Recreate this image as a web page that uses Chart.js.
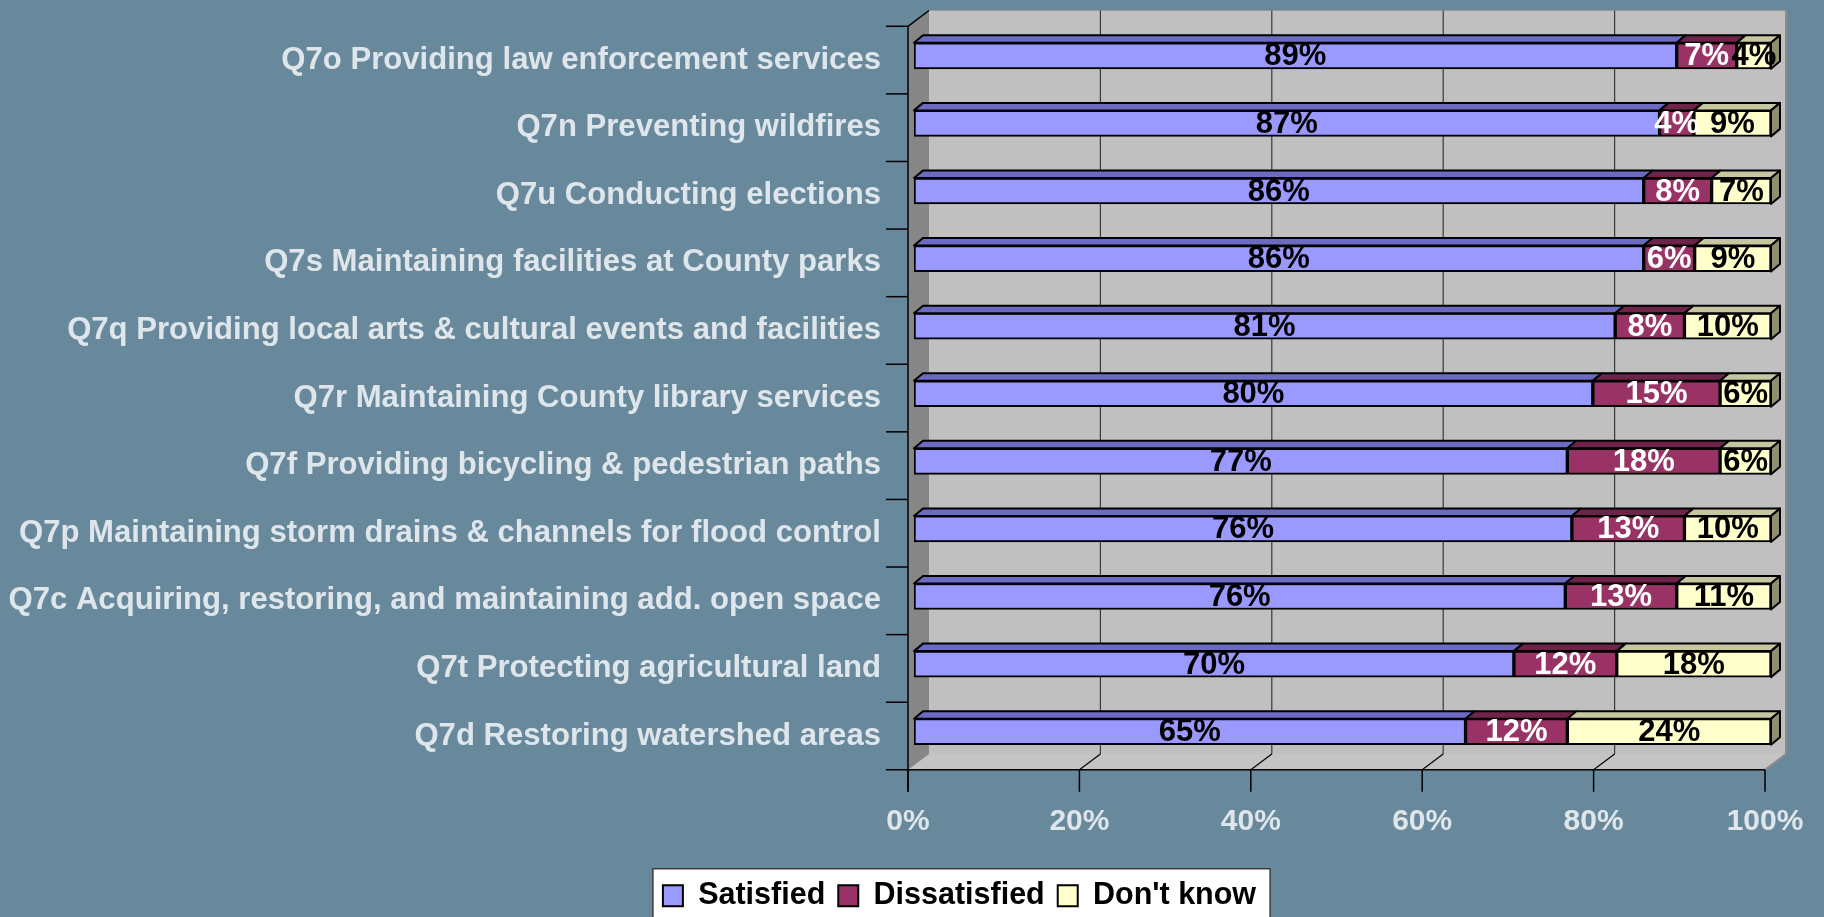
<!DOCTYPE html>
<html>
<head>
<meta charset="utf-8">
<title>Satisfaction with County services</title>
<script src="https://cdn.jsdelivr.net/npm/chart.js@4.4.1/dist/chart.umd.min.js"></script>
<style>
  html, body { margin: 0; padding: 0; background: #68899c; }
  canvas { display: block; }
</style>
</head>
<body>
<canvas id="chart" width="1824" height="917"></canvas>
<script>
let questions = [
  "Q7o Providing law enforcement services",
  "Q7n Preventing wildfires",
  "Q7u Conducting elections",
  "Q7s Maintaining facilities at County parks",
  "Q7q Providing local arts & cultural events and facilities",
  "Q7r Maintaining County library services",
  "Q7f Providing bicycling & pedestrian paths",
  "Q7p Maintaining storm drains & channels for flood control",
  "Q7c Acquiring, restoring, and maintaining add. open space",
  "Q7t Protecting agricultural land",
  "Q7d Restoring watershed areas"
];
let satisfied = [89, 87, 86, 86, 81, 80, 77, 76, 76, 70, 65];
let dissatisfied = [7, 4, 8, 6, 8, 15, 18, 13, 13, 12, 12];
let dontKnow = [4, 9, 7, 9, 10, 6, 6, 10, 11, 18, 24];
let xTicks = [0, 20, 40, 60, 80, 100];

// 100% stacked: every row is drawn as its share of that row's total
let rowTotals = satisfied.map((v, i) => v + dissatisfied[i] + dontKnow[i]);
function share(arr) {
  return arr.map((v, i) => v / rowTotals[i] * 100);
}

const BG = "#68899c";
const AXIS_TEXT = "#dfe6eb";
const FONT = "'Liberation Sans', Arial, sans-serif";

// fake 3d: offsets from the plane of the bar faces
const FRONT = { dx: -6, dy: 4.3 };
const BACK = { dx: 15, dy: -11.5 };
const BAR_DEPTH = { dx: 9, dy: -7.5 };

const fills = ["#9999ff", "#993366", "#ffffcc"];
const topFills = ["#6b6bc2", "#6e2449", "#c6c6a0"];
const sideFill = "#8e8e70";
const labelColors = ["#000", "#fff", "#000"];
const rawValues = [satisfied, dissatisfied, dontKnow];

function poly(ctx, pts, fill, stroke, lw) {
  ctx.beginPath();
  ctx.moveTo(pts[0][0], pts[0][1]);
  for (let i = 1; i < pts.length; i++) ctx.lineTo(pts[i][0], pts[i][1]);
  ctx.closePath();
  if (fill) { ctx.fillStyle = fill; ctx.fill(); }
  if (stroke) { ctx.strokeStyle = stroke; ctx.lineWidth = lw || 1; ctx.stroke(); }
}

function line(ctx, x1, y1, x2, y2, color, lw) {
  ctx.beginPath();
  ctx.moveTo(x1, y1);
  ctx.lineTo(x2, y2);
  ctx.strokeStyle = color;
  ctx.lineWidth = lw || 1;
  ctx.stroke();
}

// keep label overhang from pushing the plot area around
function noOverhang(s) {
  s.paddingTop = 0;
  s.paddingBottom = 0;
  s.paddingLeft = 0;
  s.paddingRight = 0;
}

// walls, floor, gridlines, axis ticks and the legend panel
const scenery = {
  id: "scenery",
  beforeDraw(chart) {
    const ctx = chart.ctx;
    const xs = chart.scales.x;
    const top = chart.chartArea.top, bot = chart.chartArea.bottom;
    const x0 = xs.getPixelForValue(0), x1 = xs.getPixelForValue(100);

    ctx.save();
    ctx.fillStyle = BG;
    ctx.fillRect(0, 0, chart.width, chart.height);

    const F = (px, py) => [px + FRONT.dx, py + FRONT.dy];
    const B = (px, py) => [px + BACK.dx, py + BACK.dy];

    // back wall
    poly(ctx, [B(x0, top), B(x1, top), B(x1, bot), B(x0, bot)], "#c0c0c0");
    line(ctx, ...B(x0, top), ...B(x1, top), "#9a9a9a", 1);
    line(ctx, ...B(x1, top), ...B(x1, bot), "#8c8c8c", 2);

    // left wall
    poly(ctx, [F(x0, top), B(x0, top), B(x0, bot), F(x0, bot)], "#868686");

    // floor
    poly(ctx, [F(x0, bot), F(x1, bot), B(x1, bot), B(x0, bot)], "#c4c4c4");
    line(ctx, ...F(x1, bot), ...B(x1, bot), "#8c8c8c", 2);

    // gridlines on the back wall, carried across the floor
    xTicks.forEach(v => {
      if (v === 0 || v === 100) return;
      const px = xs.getPixelForValue(v);
      line(ctx, ...B(px, top), ...B(px, bot), "#3a3a3a", 1.2);
      line(ctx, ...B(px, bot), ...F(px, bot), "#000", 1.2);
    });

    // left wall top edge and front axis
    line(ctx, ...F(x0, top), ...B(x0, top), "#000", 1.5);
    const [fx0, fyTop] = F(x0, top);
    const [, fyBot] = F(x0, bot);
    line(ctx, fx0, fyTop, fx0, fyBot + 22, "#000", 1.5);
    line(ctx, fx0 - 22, fyBot, F(x1, bot)[0], fyBot, "#000", 1.5);

    // category ticks on the front vertical axis
    const step = (bot - top) / questions.length;
    for (let i = 0; i < questions.length; i++) {
      const py = fyTop + i * step;
      line(ctx, fx0 - 22, py, fx0, py, "#000", 1.5);
    }
    // value ticks below the floor
    xTicks.forEach(v => {
      const px = xs.getPixelForValue(v) + FRONT.dx;
      line(ctx, px, fyBot, px, fyBot + 22, "#000", 1.5);
    });

    // white legend panel
    const hb = chart.legend.legendHitBoxes;
    if (hb && hb.length) {
      const first = hb[0], last = hb[hb.length - 1];
      const cy = first.top + first.height / 2;
      const left = first.left - 10, right = last.left + last.width + 14;
      ctx.fillStyle = "#fff";
      ctx.fillRect(left, cy - 27, right - left, chart.height - cy + 40);
      ctx.strokeStyle = "#3c3c3c";
      ctx.lineWidth = 1.5;
      ctx.strokeRect(left, cy - 27, right - left, chart.height - cy + 40);
    }
    ctx.restore();
  }
};

// top and end faces of the bars, then the value labels
const barFaces = {
  id: "barFaces",
  afterDatasetsDraw(chart) {
    const ctx = chart.ctx;
    const d = BAR_DEPTH;
    const n = chart.data.datasets.length;
    ctx.save();
    ctx.lineJoin = "round";
    for (let di = 0; di < n; di++) {
      chart.getDatasetMeta(di).data.forEach(bar => {
        const p = bar.getProps(["x", "y", "base", "height"], true);
        const t = p.y - p.height / 2, b = p.y + p.height / 2;
        poly(ctx, [[p.base, t], [p.x, t], [p.x + d.dx, t + d.dy], [p.base + d.dx, t + d.dy]],
          topFills[di], "#000", 2);
        if (di === n - 1) {
          poly(ctx, [[p.x, t], [p.x + d.dx, t + d.dy], [p.x + d.dx, b + d.dy], [p.x, b]],
            sideFill, "#000", 2);
        }
      });
    }
    ctx.font = "bold 31px " + FONT;
    ctx.textAlign = "center";
    ctx.textBaseline = "middle";
    for (let di = 0; di < n; di++) {
      ctx.fillStyle = labelColors[di];
      chart.getDatasetMeta(di).data.forEach((bar, i) => {
        const p = bar.getProps(["x", "y", "base"], true);
        ctx.fillText(rawValues[di][i] + "%", (p.x + p.base) / 2, p.y + 1);
      });
    }
    ctx.restore();
  }
};

new Chart(document.getElementById("chart"), {
  type: "bar",
  data: {
    labels: questions,
    datasets: [
      { label: "Satisfied", data: share(satisfied), backgroundColor: fills[0] },
      { label: "Dissatisfied", data: share(dissatisfied), backgroundColor: fills[1] },
      { label: "Don't know", data: share(dontKnow), backgroundColor: fills[2] }
    ]
  },
  options: {
    indexAxis: "y",
    responsive: false,
    animation: false,
    layout: { padding: { top: 22, right: 53, bottom: -4, left: 0 } },
    datasets: {
      bar: { barThickness: 26, borderColor: "#000", borderWidth: 2, borderSkipped: false }
    },
    scales: {
      x: {
        stacked: true,
        min: 0,
        max: 100,
        grid: { display: false, drawTicks: false },
        border: { display: false },
        afterBuildTicks: s => { s.ticks = xTicks.map(v => ({ value: v })); },
        afterFit: s => { s.height = 102; noOverhang(s); },
        ticks: {
          callback: v => v + "%",
          color: AXIS_TEXT,
          font: { family: FONT, size: 30, weight: "bold" },
          padding: 38,
          labelOffset: FRONT.dx,
          maxRotation: 0
        }
      },
      y: {
        stacked: true,
        grid: { display: false, drawTicks: false },
        border: { display: false },
        afterFit: s => { s.width = 914; noOverhang(s); },
        ticks: {
          color: AXIS_TEXT,
          font: { family: FONT, size: 31.1, weight: "bold" },
          padding: 33,
          labelOffset: FRONT.dy,
          autoSkip: false
        }
      }
    },
    plugins: {
      legend: {
        position: "bottom",
        labels: {
          boxWidth: 20,
          boxHeight: 21,
          padding: 13,
          color: "#000",
          font: { family: FONT, size: 30.5, weight: "bold", lineHeight: 0.8 }
        }
      },
      tooltip: { enabled: false }
    }
  },
  plugins: [scenery, barFaces, {
    id: "legendShift",
    afterLayout(chart) {
      // legend sits right of the canvas centre
      chart.legend.left += 74;
      chart.legend.right += 74;
    }
  }]
});
</script>
</body>
</html>
